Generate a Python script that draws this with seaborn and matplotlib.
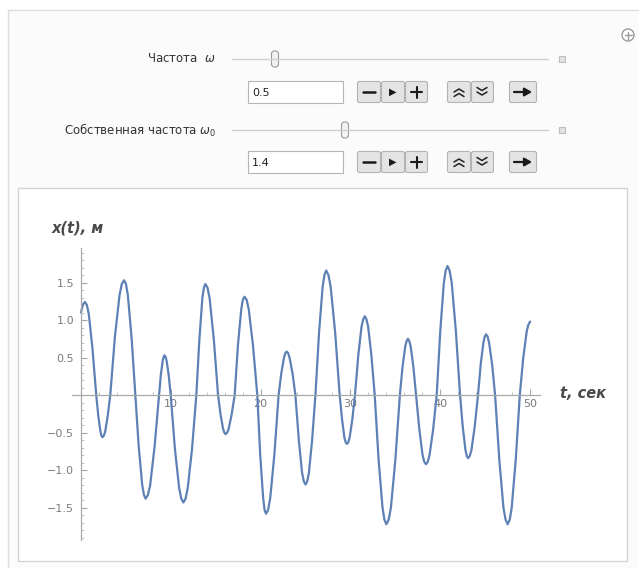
import numpy as np
import pandas as pd
import matplotlib
matplotlib.use("Agg")
import matplotlib.pyplot as plt
import matplotlib.patches as mpatches
from matplotlib.ticker import MultipleLocator, FixedLocator
import seaborn as sns

t_vals = [0.00, 0.22, 0.45, 0.87, 1.28, 1.70, 1.93, 2.17, 2.40, 2.69, 2.97, 3.26,
          3.77, 4.29, 4.80, 5.22, 5.63, 6.05, 6.43, 6.82, 7.20, 7.70, 8.19, 8.69,
          8.89, 9.10, 9.30, 9.53, 9.76, 9.99, 10.46, 10.93, 11.40, 11.88, 12.36, 12.84,
          13.18, 13.51, 13.85, 14.32, 14.79, 15.26, 15.54, 15.82, 16.10, 16.44, 16.77, 17.11,
          17.47, 17.84, 18.20, 18.68, 19.15, 19.63, 19.95, 20.28, 20.60, 21.07, 21.53, 22.00,
          22.30, 22.60, 22.90, 23.22, 23.55, 23.87, 24.25, 24.62, 25.00, 25.37, 25.73, 26.10,
          26.50, 26.90, 27.30, 27.80, 28.30, 28.80, 29.07, 29.33, 29.60, 29.90, 30.20, 30.50,
          30.87, 31.23, 31.60, 31.97, 32.33, 32.70, 33.13, 33.57, 34.00, 34.50, 35.00, 35.50,
          35.80, 36.10, 36.40, 36.70, 37.00, 37.30, 37.67, 38.03, 38.40, 38.80, 39.20, 39.60,
          40.00, 40.40, 40.80, 41.27, 41.73, 42.20, 42.50, 42.80, 43.10, 43.47, 43.83, 44.20,
          44.50, 44.80, 45.10, 45.43, 45.77, 46.10, 46.57, 47.03, 47.50, 47.95, 48.40, 48.85,
          49.23, 49.62, 50.00]
x_vals = [1.10, 1.21, 1.24, 1.08, 0.62, 0.00, -0.28, -0.49, -0.56, -0.49, -0.28, 0.00,
          0.77, 1.33, 1.53, 1.33, 0.77, 0.00, -0.69, -1.20, -1.38, -1.20, -0.69, 0.00,
          0.27, 0.46, 0.53, 0.46, 0.27, 0.00, -0.72, -1.24, -1.43, -1.24, -0.72, 0.00,
          0.74, 1.29, 1.48, 1.29, 0.74, 0.00, -0.26, -0.45, -0.52, -0.45, -0.26, 0.00,
          0.66, 1.14, 1.31, 1.14, 0.66, 0.00, -0.79, -1.37, -1.58, -1.37, -0.79, 0.00,
          0.29, 0.50, 0.58, 0.50, 0.29, 0.00, -0.60, -1.04, -1.19, -1.04, -0.60, 0.00,
          0.83, 1.44, 1.66, 1.44, 0.83, 0.00, -0.33, -0.57, -0.65, -0.57, -0.33, 0.00,
          0.53, 0.91, 1.05, 0.91, 0.53, 0.00, -0.86, -1.50, -1.72, -1.50, -0.86, 0.00,
          0.38, 0.65, 0.75, 0.65, 0.38, 0.00, -0.46, -0.80, -0.92, -0.80, -0.46, 0.00,
          0.86, 1.50, 1.72, 1.50, 0.86, 0.00, -0.42, -0.73, -0.84, -0.73, -0.42, 0.00,
          0.41, 0.70, 0.81, 0.70, 0.41, 0.00, -0.86, -1.50, -1.72, -1.50, -0.86, 0.00,
          0.49, 0.85, 0.98]

# extra points read on the shoulders of each peak / trough
near_t = [0.66, 2.28, 2.54, 4.54, 5.01, 7.01, 7.45, 9.20, 9.42, 11.17, 11.64,
          13.68, 14.09, 15.96, 16.27, 18.02, 18.44, 20.44, 20.83, 22.75, 23.06,
          24.81, 25.18, 27.10, 27.55, 29.47, 29.75, 31.42, 31.78, 33.78, 34.25,
          36.25, 36.55, 38.22, 38.60, 40.60, 41.03, 42.95, 43.28, 44.95, 45.27,
          47.27, 47.73, 49.81]
near_x = [1.20, -0.54, -0.54, 1.48, 1.48, -1.33, -1.33, 0.51, 0.51, -1.38, -1.38,
          1.43, 1.43, -0.50, -0.50, 1.27, 1.27, -1.53, -1.53, 0.56, 0.56,
          -1.15, -1.15, 1.60, 1.60, -0.63, -0.63, 1.01, 1.01, -1.66, -1.66,
          0.72, 0.72, -0.89, -0.89, 1.66, 1.66, -0.81, -0.81, 0.78, 0.78,
          -1.66, -1.66, 0.94]

x_ticks = [10, 20, 30, 40, 50]
y_ticks = [-1.5, -1.0, -0.5, 0.5, 1.0, 1.5]

omega = "0.5"
omega0 = "1.4"

df = pd.DataFrame({"t": t_vals + near_t, "x": x_vals + near_x}).sort_values("t")

sns.set_theme(style="white")
plt.rcParams["font.family"] = ["DejaVu Sans"]

W, H = 639, 568
fig = plt.figure(figsize=(W / 100, H / 100), dpi=100)
fig.patch.set_facecolor("white")

# overlay in pixel coordinates for the control panel
ui = fig.add_axes([0, 0, 1, 1], zorder=0)
ui.set_xlim(0, W)
ui.set_ylim(H, 0)
ui.axis("off")

ui.add_patch(mpatches.Rectangle((8, 10), W, H, facecolor="#fbfbfb", edgecolor="#dedede", lw=1))
ui.add_patch(mpatches.Rectangle((18, 188), 609, 373, facecolor="white", edgecolor="#d4d4d4", lw=1))

# plus icon
ui.add_patch(mpatches.Circle((628, 35), 6, facecolor="white", edgecolor="#9a9a9a", lw=1))
ui.plot([624.5, 631.5], [35, 35], color="#9a9a9a", lw=1)
ui.plot([628, 628], [31.5, 38.5], color="#9a9a9a", lw=1)


def control_row(y_slider, y_box, label, value, thumb_x):
    ui.text(216, y_slider, label, ha="right", va="center", fontsize=8.5, color="#333333")
    ui.plot([232, 548], [y_slider, y_slider], color="#cfcfcf", lw=1)
    ui.add_patch(mpatches.FancyBboxPatch((thumb_x - 3.5, y_slider - 8), 7, 16,
                                         boxstyle="round,pad=0,rounding_size=3",
                                         facecolor="#f2f2f2", edgecolor="#9c9c9c", lw=0.8))
    ui.add_patch(mpatches.Rectangle((559, y_slider - 3), 6, 6, facecolor="#e2e2e2",
                                    edgecolor="#bdbdbd", lw=0.8))
    ui.add_patch(mpatches.Rectangle((248, y_box - 11), 95, 22, facecolor="white",
                                    edgecolor="#b5b5b5", lw=0.8))
    ui.text(252, y_box + 0.5, value, ha="left", va="center", fontsize=8, color="#222222")
    for x0, w in [(357, 24), (381, 24), (405, 23), (447, 24), (471, 23), (509, 28)]:
        ui.add_patch(mpatches.FancyBboxPatch((x0 + 0.5, y_box - 10.5), w - 1, 21,
                                             boxstyle="round,pad=0,rounding_size=2",
                                             facecolor="#e4e4e4", edgecolor="#b3b3b3", lw=0.8))
    ui.plot([363, 375], [y_box, y_box], color="#1a1a1a", lw=1.8)
    ui.text(393, y_box, "\u25B6", ha="center", va="center", fontsize=7, color="#1a1a1a")
    ui.plot([411, 422], [y_box, y_box], color="#1a1a1a", lw=1.5)
    ui.plot([416.5, 416.5], [y_box - 5.5, y_box + 5.5], color="#1a1a1a", lw=1.5)
    for dy in (-3, 1.5):
        ui.plot([454, 459, 464], [y_box + dy + 3, y_box + dy, y_box + dy + 3], color="#222222", lw=1.1)
        ui.plot([477, 482, 487], [y_box - dy - 3, y_box - dy, y_box - dy - 3], color="#222222", lw=1.1)
    ui.annotate("", xy=(532, y_box), xytext=(514, y_box),
                arrowprops=dict(arrowstyle="-|>,head_length=0.35,head_width=0.2",
                                color="#1a1a1a", lw=1.6, shrinkA=0, shrinkB=0))


control_row(59, 92, "Частота  $\\omega$", omega, 275)
control_row(130, 162, "Собственная частота $\\omega_0$", omega0, 345)

# plot axes
px_left, px_right, px_top, px_bot = 72, 540, 248, 540
ax = fig.add_axes([px_left / W, (H - px_bot) / H, (px_right - px_left) / W, (px_bot - px_top) / H],
                  zorder=1)
ax.patch.set_alpha(0)

sns.lineplot(data=df, x="t", y="x", ax=ax, color="#5e81b5", lw=1.6, sort=False)
for ln in ax.lines:
    ln.set_solid_joinstyle("round")

ax.set_xlim(-1.0, 51.1)
ax.set_ylim(-1.93, 1.96)
ax.set_xlabel("")
ax.set_ylabel("")

for s in ["top", "right"]:
    ax.spines[s].set_visible(False)
for s in ["left", "bottom"]:
    ax.spines[s].set_position(("data", 0))
    ax.spines[s].set_color("#a8a8a8")
    ax.spines[s].set_linewidth(0.9)

ax.xaxis.set_major_locator(FixedLocator(x_ticks))
ax.xaxis.set_minor_locator(MultipleLocator(2))
ax.yaxis.set_major_locator(FixedLocator(y_ticks))
ax.yaxis.set_minor_locator(MultipleLocator(0.1))
ax.set_xticklabels([str(v) for v in x_ticks])
ax.set_yticklabels([f"{v:.1f}".replace("-", "\u2212") for v in y_ticks])
ax.tick_params(axis="both", which="major", direction="in", length=4, width=0.8,
               color="#a8a8a8", labelsize=8, labelcolor="#7a7a7a", pad=3)
ax.tick_params(axis="both", which="minor", direction="in", length=2, width=0.6,
               color="#b8b8b8")
ax.tick_params(axis="y", which="major", pad=5)
ax.tick_params(axis="x", which="both", bottom=True, top=False)
ax.tick_params(axis="y", which="both", left=True, right=False)

ui.text(78, 228, "x(t), м", ha="center", va="center", fontsize=10.5,
        fontweight="bold", fontstyle="italic", color="#4a4a4a")
ui.text(583, 393, "t, сек", ha="center", va="center", fontsize=10.5,
        fontweight="bold", fontstyle="italic", color="#4a4a4a")

fig.savefig("out.png", dpi=100)
